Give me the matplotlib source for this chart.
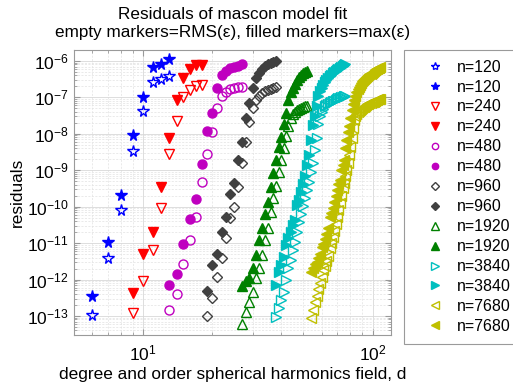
import matplotlib
matplotlib.use('Agg')
import matplotlib.pyplot as plt
from matplotlib.ticker import LogFormatterSciNotation, NullFormatter, LogLocator

plt.rcParams['font.family'] = ['Liberation Sans', 'DejaVu Sans']
plt.rcParams['mathtext.fontset'] = 'custom'
plt.rcParams['mathtext.rm'] = 'Liberation Sans'
plt.rcParams['mathtext.default'] = 'regular'

# degree d and residuals (RMS = empty markers, max = filled markers) per mascon count n
d_120 = [6, 7, 8, 9, 10, 11, 12, 13]
rms_120 = [1.05e-13, 3.8e-12, 8.1e-11, 3.4e-9, 4.3e-8, 2.7e-7, 3.2e-7, 3.9e-7]
max_120 = [3.5e-13, 1.1e-11, 2.1e-10, 9.3e-9, 1.05e-7, 6.8e-7, 8.3e-7, 1.1e-6]

d_240 = [9, 10, 11, 12, 13, 14, 15, 16, 17, 18]
rms_240 = [1.2e-13, 9.3e-13, 6.5e-12, 9.1e-11, 2.8e-9, 2.2e-8, 1.05e-7, 1.6e-7, 2.0e-7, 2.2e-7]
max_240 = [4.3e-13, 5.0e-12, 2.0e-11, 3.5e-10, 7.6e-9, 8.5e-8, 3.4e-7, 6.0e-7, 7.8e-7, 7.8e-7]

d_480 = [13, 14, 15, 16, 17, 18, 19, 20, 21, 22, 23, 24, 25, 26, 27]
rms_480 = [1.5e-13, 3.9e-13, 2.7e-12, 1.2e-11, 5.1e-11, 4.7e-10, 2.8e-9, 1.1e-8,
           5.2e-8, 1.1e-7, 1.4e-7, 1.7e-7, 1.8e-7, 1.9e-7, 1.9e-7]
max_480 = [7.1e-13, 1.4e-12, 9.5e-12, 4.5e-11, 1.6e-10, 1.5e-9, 1.2e-8, 3.7e-8,
           1.8e-7, 4.1e-7, 5.3e-7, 6.3e-7, 6.8e-7, 7.4e-7, 8.1e-7]

d_960 = [19, 20, 21, 22, 23, 24, 25, 26, 27, 28, 29, 30, 31, 32, 33, 34, 35, 36, 37, 38]
rms_960 = [1.0e-13, 3.1e-13, 1.2e-12, 3.9e-12, 1.4e-11, 4.9e-11, 9.8e-11, 3.5e-10, 1.6e-9, 6.0e-9,
           2.1e-8, 5.1e-8, 8.5e-8, 1.1e-7, 1.3e-7, 1.5e-7, 1.6e-7, 1.7e-7, 1.8e-7, 1.9e-7]
max_960 = [4.9e-13, 2.5e-12, 5.0e-12, 2.0e-11, 5.2e-11, 2.2e-10, 4.5e-10, 1.9e-9, 6.0e-9, 2.7e-8,
           7.0e-8, 1.8e-7, 3.4e-7, 4.7e-7, 6.0e-7, 7.3e-7, 8.3e-7, 8.8e-7, 9.4e-7, 1.0e-6]

d_1920 = [27, 28, 29, 30, 31, 32, 33, 34, 35, 36, 37, 38, 39, 40, 41, 42, 43, 44, 45,
          46, 47, 48, 49, 50, 51, 52]
rms_1920 = [6.0e-14, 1.3e-13, 2.4e-13, 4.6e-13, 1.1e-12, 2.1e-12, 4.7e-12, 1.2e-11, 2.6e-11,
            7.2e-11, 1.7e-10, 3.7e-10, 9.0e-10, 1.9e-9, 4.1e-9, 8.7e-9, 1.6e-8, 2.7e-8, 3.5e-8,
            4.0e-8, 4.5e-8, 4.8e-8, 5.1e-8, 5.5e-8, 5.8e-8, 5.8e-8]
max_1920 = [6.7e-13, 9.1e-13, 1.1e-12, 2.1e-12, 4.7e-12, 1.2e-11, 2.6e-11, 6.3e-11, 1.35e-10,
            3.5e-10, 8.4e-10, 1.9e-9, 4.4e-9, 8.2e-9, 1.9e-8, 3.7e-8, 8.5e-8, 1.4e-7, 1.8e-7,
            2.3e-7, 3.0e-7, 3.6e-7, 4.1e-7, 4.7e-7, 5.0e-7, 5.3e-7]

d_3840 = [38, 39, 40, 41, 42, 43, 44, 45, 46, 47, 48, 49, 50, 51, 52, 53, 54, 55, 56, 57,
          58, 59, 60, 61, 62, 63, 64, 65, 66, 67, 68, 69, 70, 71, 72, 73, 74, 75, 76]
rms_3840 = [9.4e-14, 1.7e-13, 2.8e-13, 4.6e-13, 9.7e-13, 2.1e-12, 3.4e-12, 6.5e-12, 1.1e-11,
            2.0e-11, 3.8e-11, 6.3e-11, 1.05e-10, 1.7e-10, 2.9e-10, 4.8e-10, 9.0e-10, 1.6e-9,
            3.6e-9, 7.7e-9, 1.9e-8, 3.1e-8, 4.0e-8, 4.8e-8, 5.8e-8, 6.2e-8, 6.6e-8, 7.0e-8,
            7.5e-8, 8.0e-8, 8.2e-8, 8.5e-8, 9.1e-8, 9.4e-8, 9.6e-8, 1.0e-7, 1.03e-7, 1.06e-7, 1.09e-7]
max_3840 = [7.1e-13, 1.6e-12, 2.5e-12, 4.2e-12, 8.9e-12, 1.4e-11, 2.0e-11, 3.1e-11, 4.3e-11,
            1.1e-10, 1.5e-10, 2.5e-10, 4.2e-10, 7.0e-10, 1.4e-9, 2.6e-9, 6.8e-9, 1.75e-8, 3.1e-8,
            5.8e-8, 1.09e-7, 1.5e-7, 1.8e-7, 2.2e-7, 2.65e-7, 3.0e-7, 3.4e-7, 3.9e-7, 4.1e-7,
            4.7e-7, 5.0e-7, 5.3e-7, 5.7e-7, 6.0e-7, 6.4e-7, 6.8e-7, 7.3e-7, 7.8e-7, 8.3e-7]

d_7680 = [54, 55, 56, 57, 58, 59, 60, 61, 62, 63, 64, 65, 66, 67, 68, 69, 70, 71, 72, 73,
          74, 75, 76, 77, 78, 79, 80, 81, 82, 83, 84, 85, 86, 87, 88, 89, 90, 91, 92, 93,
          94, 95, 96, 97, 98, 99, 100, 101, 102, 103, 104, 105, 106, 107, 108]
rms_7680 = [8.8e-14, 1.5e-13, 2.4e-13, 3.5e-13, 5.5e-13, 8.1e-13, 1.2e-12, 1.8e-12, 2.4e-12,
            3.2e-12, 4.4e-12, 7.4e-12, 1.0e-11, 1.5e-11, 2.2e-11, 3.4e-11, 5.2e-11, 8.1e-11,
            1.3e-10, 2.0e-10, 3.3e-10, 4.5e-10, 7.0e-10, 1.0e-9, 1.6e-9, 2.6e-9, 4.4e-9, 7.7e-9,
            1.45e-8, 2.4e-8, 3.1e-8, 3.5e-8, 4.0e-8, 4.2e-8, 4.5e-8, 4.8e-8, 5.1e-8, 5.5e-8,
            5.6e-8, 5.8e-8, 6.2e-8, 6.4e-8, 6.6e-8, 6.8e-8, 7.0e-8, 7.3e-8, 7.5e-8, 7.7e-8,
            8.0e-8, 8.2e-8, 8.5e-8, 8.6e-8, 8.8e-8, 8.9e-8, 9.1e-8]
max_7680 = [1.6e-12, 2.1e-12, 2.7e-12, 3.0e-12, 3.9e-12, 5.0e-12, 7.8e-12, 9.5e-12, 1.3e-11,
            1.8e-11, 2.6e-11, 5.2e-11, 6.7e-11, 9.2e-11, 1.35e-10, 2.0e-10, 2.9e-10, 4.2e-10,
            5.4e-10, 1.0e-9, 1.4e-9, 1.9e-9, 4.1e-9, 6.8e-9, 1.1e-8, 1.6e-8, 2.7e-8, 4.5e-8,
            6.6e-8, 8.5e-8, 1.09e-7, 1.4e-7, 1.7e-7, 1.9e-7, 2.2e-7, 2.5e-7, 2.8e-7, 3.0e-7,
            3.2e-7, 3.4e-7, 3.6e-7, 3.9e-7, 4.1e-7, 4.4e-7, 4.5e-7, 4.7e-7, 5.0e-7, 5.3e-7,
            5.5e-7, 5.7e-7, 6.0e-7, 6.2e-7, 6.4e-7, 6.6e-7, 6.8e-7]

series = [
    ('n=120', d_120, rms_120, max_120, 'b', '*', 8.5),
    ('n=240', d_240, rms_240, max_240, 'r', 'v', 7.5),
    ('n=480', d_480, rms_480, max_480, 'm', 'o', 6.5),
    ('n=960', d_960, rms_960, max_960, '#404040', 'D', 5.5),
    ('n=1920', d_1920, rms_1920, max_1920, 'g', '^', 7.5),
    ('n=3840', d_3840, rms_3840, max_3840, 'c', '>', 7.5),
    ('n=7680', d_7680, rms_7680, max_7680, 'y', '<', 7.5),
]

fig = plt.figure(figsize=(5.13, 3.87), dpi=100)
ax = fig.add_axes([74 / 513, 1 - 335 / 387, (390.7 - 74) / 513, (335 - 50) / 387])

for label, d, rms, mx, col, mk, ms in series:
    ax.plot(d, rms, linestyle='none', marker=mk, ms=ms, mec=col, mfc='none', mew=1.0, label=label)
    ax.plot(d, mx, linestyle='none', marker=mk, ms=ms, mec=col, mfc=col, mew=1.0, label=label)

ax.set_xscale('log')
ax.set_yscale('log')
ax.set_xlim(5, 120)
ax.set_ylim(3e-14, 2e-6)
ax.set_xticks([10, 100])
ax.set_yticks([1e-13, 1e-12, 1e-11, 1e-10, 1e-9, 1e-8, 1e-7, 1e-6])
ax.xaxis.set_major_formatter(LogFormatterSciNotation())
ax.yaxis.set_major_formatter(LogFormatterSciNotation())
ax.xaxis.set_minor_locator(LogLocator(base=10, subs=range(2, 10), numticks=20))
ax.yaxis.set_minor_locator(LogLocator(base=10, subs=range(2, 10), numticks=20))
ax.xaxis.set_minor_formatter(NullFormatter())
ax.yaxis.set_minor_formatter(NullFormatter())

ax.grid(True, which='major', color='#d8d8d8', linewidth=0.6, linestyle='-')
ax.grid(True, which='minor', color='#e2e2e2', linewidth=0.5, linestyle=(0, (3, 2)))
ax.set_axisbelow(True)
for s in ax.spines.values():
    s.set_color('#9a9a9a')
ax.tick_params(which='both', direction='in', top=True, right=True, colors='#9a9a9a',
               labelcolor='k', labelsize=12.5)
ax.tick_params(which='major', length=4)
ax.tick_params(axis='x', which='major', pad=6)
ax.tick_params(axis='y', which='major', pad=4)
ax.tick_params(which='minor', length=2)

ax.set_title('Residuals of mascon model fit\nempty markers=RMS(\u03b5), filled markers=max(\u03b5)',
             fontsize=12.3, pad=9.5, linespacing=1.22)
ax.set_xlabel('degree and order spherical harmonics field, d', fontsize=12.4, labelpad=3)
ax.set_ylabel('residuals', fontsize=12.4, labelpad=1)

leg = ax.legend(loc='upper left', bbox_to_anchor=(404 / 513, 1 - 50 / 387),
                bbox_transform=fig.transFigure, borderaxespad=0, fontsize=11.5,
                frameon=True, fancybox=False, edgecolor='#9a9a9a', framealpha=1,
                labelspacing=0.31, handletextpad=0.05, borderpad=0.6, handlelength=2.65,
                markerscale=0.7)
leg.get_frame().set_linewidth(0.8)

fig.savefig('out.png', dpi=100)
